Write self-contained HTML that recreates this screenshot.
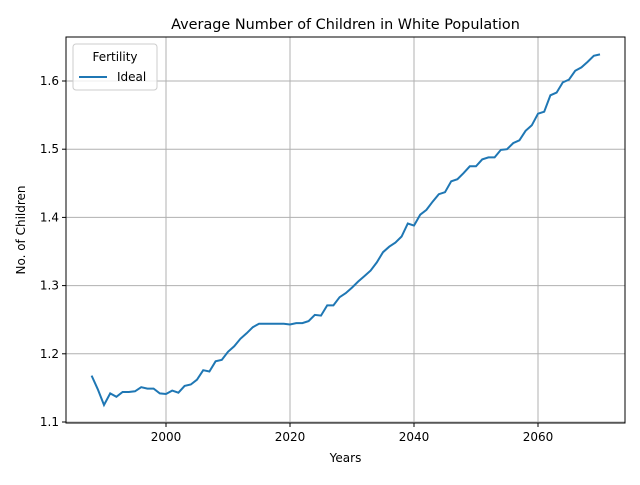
<!DOCTYPE html>
<html><head><meta charset="utf-8"><style>
body{margin:0;background:#fff;font-family:"Liberation Sans","DejaVu Sans",sans-serif;}
svg text{font-family:"DejaVu Sans","Liberation Sans",sans-serif;}
</style></head><body>
<svg id="c" width="640" height="480"></svg>
<script>
const startYear = 1988;
const values = [1.168,1.148,1.125,1.142,1.137,1.144,1.144,1.145,1.151,1.149,1.149,1.142,1.141,1.146,1.143,1.153,1.155,1.162,1.176,1.174,1.189,1.191,1.203,1.211,1.222,1.230,1.239,1.244,1.244,1.244,1.244,1.244,1.243,1.245,1.245,1.248,1.257,1.256,1.271,1.271,1.283,1.289,1.297,1.306,1.314,1.322,1.334,1.349,1.357,1.363,1.372,1.391,1.388,1.404,1.411,1.423,1.434,1.437,1.453,1.456,1.465,1.475,1.475,1.485,1.488,1.488,1.499,1.500,1.509,1.513,1.527,1.535,1.552,1.555,1.579,1.583,1.598,1.602,1.615,1.620,1.628,1.637,1.639];
const xTicks = [2000,2020,2040,2060];
const yTicks = [1.1,1.2,1.3,1.4,1.5,1.6];
const NS="http://www.w3.org/2000/svg";
const svg=document.getElementById('c');
const L=66,R=625,T=37,B=423;
const X=v=>166+(v-2000)*6.2;
const Y=v=>422-(v-1.1)*682;
function el(t,a,txt){const e=document.createElementNS(NS,t);for(const k in a)e.setAttribute(k,a[k]);if(txt!==undefined)e.textContent=txt;svg.appendChild(e);return e;}
xTicks.forEach(t=>{
 const g=el('line',{x1:X(t),x2:X(t),y1:T,y2:B,stroke:'#b0b0b0','stroke-width':1});
 
 
 el('line',{x1:X(t),x2:X(t),y1:B,y2:B+4,stroke:'#000'});
 const lb=el('text',{x:X(t),y:B+18,'text-anchor':'middle','font-size':12},t);
 
 
});
yTicks.forEach(t=>{
 const g=el('line',{x1:L,x2:R,y1:Y(t),y2:Y(t),stroke:'#b0b0b0','stroke-width':1});
 
 
 el('line',{x1:L-4,x2:L,y1:Y(t),y2:Y(t),stroke:'#000'});
 const lb=el('text',{x:L-7,y:Y(t)+4,'text-anchor':'end','font-size':12},t.toFixed(1));
 
 
});
const pts=values.map((v,i)=>X(startYear+i).toFixed(1)+','+Y(v).toFixed(1)).join(' ');
const line=el('polyline',{points:pts,fill:'none',stroke:'#1f77b4','stroke-width':2});


const fr=el('rect',{x:L,y:T,width:R-L,height:B-T,fill:'none',stroke:'#000','stroke-width':1});


const ti=el('text',{x:(L+R)/2,y:29,'text-anchor':'middle','font-size':14.4},'Average Number of Children in White Population');


const xt=el('text',{x:(L+R)/2,y:462,'text-anchor':'middle','font-size':12},'Years');


const yt=el('text',{x:25,y:230,'text-anchor':'middle','font-size':12,transform:'rotate(-90 25 230)'},'No. of Children');


const lg=el('rect',{x:73,y:44,width:84,height:46,rx:3,fill:'#fff','fill-opacity':0.8,stroke:'#ccc'});


const lt=el('text',{x:115,y:61,'text-anchor':'middle','font-size':12},'Fertility');


const ll=el('line',{x1:79,x2:107,y1:77,y2:77,stroke:'#1f77b4','stroke-width':2});


const le=el('text',{x:117,y:81,'font-size':12},'Ideal');


</script>
</body></html>
